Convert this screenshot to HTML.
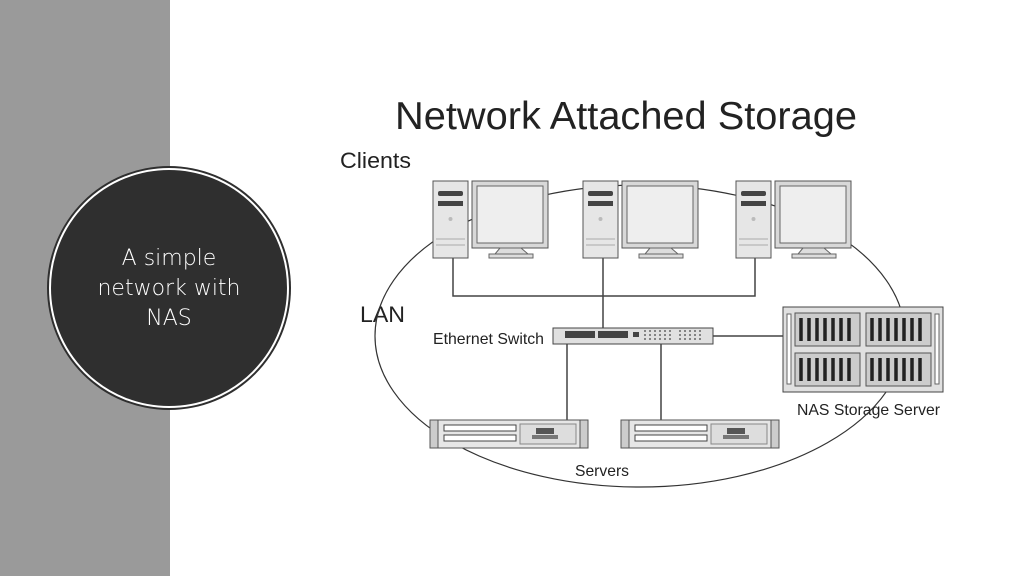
<!DOCTYPE html>
<html><head><meta charset="utf-8"><style>
html,body{margin:0;padding:0;background:#fff;}
svg{display:block}
</style></head><body>
<svg width="1024" height="576" viewBox="0 0 1024 576" xmlns="http://www.w3.org/2000/svg" font-family="Liberation Sans, Arial, sans-serif">
<rect x="0" y="0" width="170" height="576" fill="#9a9a9a"/>
<circle cx="169" cy="288" r="122" fill="#2f2f2f"/>
<circle cx="169" cy="288" r="119" fill="none" stroke="#fff" stroke-width="2"/>
<text fill="#fff" font-size="22" text-anchor="middle" font-family="DejaVu Sans, sans-serif" font-weight="300">
<tspan x="169" y="265">A simple</tspan><tspan x="169" y="295">network with</tspan><tspan x="169" y="325">NAS</tspan></text>

<text x="395" y="129" font-size="39" fill="#222" textLength="462" lengthAdjust="spacingAndGlyphs">Network Attached Storage</text>
<text x="340" y="168" font-size="22" fill="#222" textLength="71" lengthAdjust="spacingAndGlyphs">Clients</text>
<text x="360" y="322" font-size="22" fill="#222" textLength="45" lengthAdjust="spacingAndGlyphs">LAN</text>
<text x="433" y="344" font-size="16" fill="#222" textLength="111" lengthAdjust="spacingAndGlyphs">Ethernet Switch</text>
<text x="797" y="415" font-size="16" fill="#222" textLength="143" lengthAdjust="spacingAndGlyphs">NAS Storage Server</text>
<text x="575" y="476" font-size="16" fill="#222" textLength="54" lengthAdjust="spacingAndGlyphs">Servers</text>

<ellipse cx="640" cy="336" rx="265" ry="151" fill="none" stroke="#333" stroke-width="1.2"/>

<g stroke="#444" stroke-width="1.5" fill="none">
<path d="M453 258V296H755V258M603 258V328M713 336H783M567 344V420M661 344V420"/>
</g>

<defs>
<g id="pc">
<rect x="0" y="0" width="35" height="77" fill="#e6e6e6" stroke="#555"/>
<rect x="5" y="10" width="25" height="5" rx="2" fill="#444"/>
<rect x="5" y="20" width="25" height="5" fill="#444"/>
<circle cx="17.5" cy="38" r="2" fill="#bbb"/>
<line x1="3" y1="58" x2="32" y2="58" stroke="#aaa"/>
<line x1="3" y1="64" x2="32" y2="64" stroke="#aaa"/>
<rect x="39" y="0" width="76" height="67" fill="#d8d8d8" stroke="#555"/>
<rect x="44" y="5" width="66" height="57" fill="#eee" stroke="#666"/>
<path d="M67 67L62 73H95L88 67Z" fill="#ddd" stroke="#666"/>
<rect x="56" y="73" width="44" height="4" fill="#ddd" stroke="#666"/>
</g>
<g id="srv">
<rect x="0" y="0" width="158" height="28" fill="#e6e6e6" stroke="#555"/>
<rect x="0" y="0" width="8" height="28" fill="#ccc" stroke="#555"/>
<rect x="150" y="0" width="8" height="28" fill="#ccc" stroke="#555"/>
<rect x="14" y="5" width="72" height="6" fill="#fff" stroke="#444"/>
<rect x="14" y="15" width="72" height="6" fill="#fff" stroke="#444"/>
<rect x="90" y="4" width="56" height="20" fill="#ddd" stroke="#888"/>
<rect x="106" y="8" width="18" height="6" fill="#555"/>
<rect x="102" y="15" width="26" height="4" fill="#777"/>
</g>
</defs>
<use href="#pc" x="433" y="181"/>
<use href="#pc" x="583" y="181"/>
<use href="#pc" x="736" y="181"/>

<rect x="553" y="328" width="160" height="16" fill="#e0e0e0" stroke="#444"/>
<rect x="565" y="331" width="30" height="7" fill="#444"/>
<rect x="598" y="331" width="30" height="7" fill="#444"/>
<rect x="633" y="332" width="6" height="5" fill="#444"/>
<g stroke="#666" stroke-width="1.5" stroke-dasharray="2 2">
<path d="M645 330V342M650 330V342M655 330V342M660 330V342M665 330V342M670 330V342M680 330V342M685 330V342M690 330V342M695 330V342M700 330V342"/>
</g>

<rect x="783" y="307" width="160" height="85" fill="#e0e0e0" stroke="#444"/>
<rect x="787" y="314" width="4" height="70" fill="#fff" stroke="#666"/>
<rect x="935" y="314" width="4" height="70" fill="#fff" stroke="#666"/>
<rect x="795" y="313" width="65" height="33" fill="#ccc" stroke="#555"/>
<rect x="866" y="313" width="65" height="33" fill="#ccc" stroke="#555"/>
<rect x="795" y="353" width="65" height="33" fill="#ccc" stroke="#555"/>
<rect x="866" y="353" width="65" height="33" fill="#ccc" stroke="#555"/>
<g stroke="#222" stroke-width="3.5">
<path d="M801 318V341M809 318V341M817 318V341M825 318V341M833 318V341M841 318V341M849 318V341M872 318V341M880 318V341M888 318V341M896 318V341M904 318V341M912 318V341M920 318V341"/>
<path d="M801 358V381M809 358V381M817 358V381M825 358V381M833 358V381M841 358V381M849 358V381M872 358V381M880 358V381M888 358V381M896 358V381M904 358V381M912 358V381M920 358V381"/>
</g>

<use href="#srv" x="430" y="420"/>
<use href="#srv" x="621" y="420"/>
</svg>
</body></html>
